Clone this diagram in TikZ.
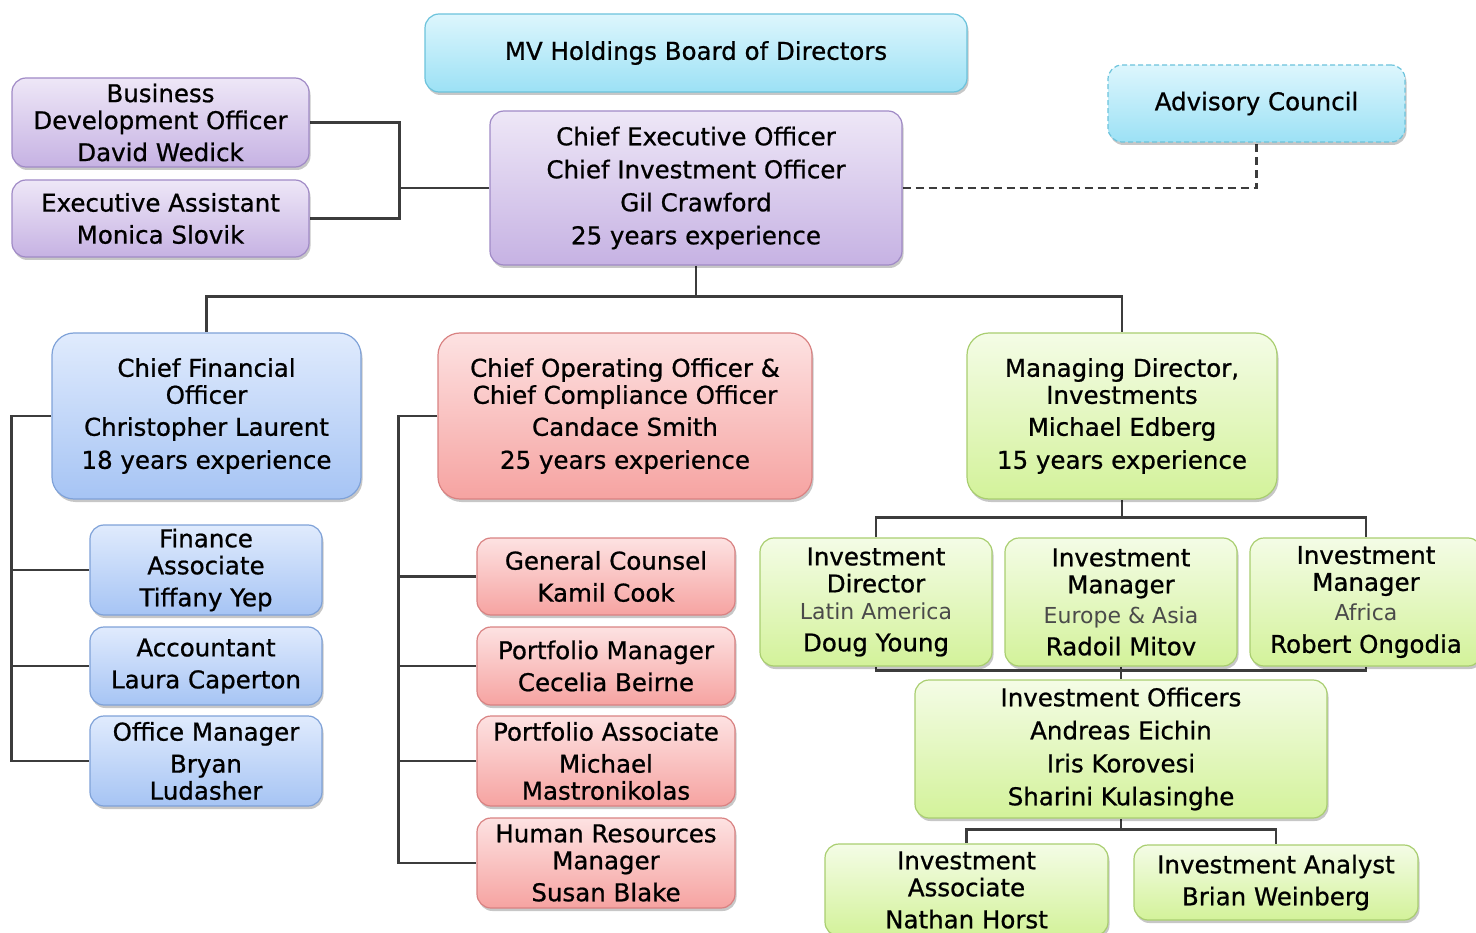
\documentclass[tikz,border=0pt]{standalone}
\usepackage{fontspec}
\setmainfont{DejaVu Sans}[FakeBold=0.8]
\usetikzlibrary{shadows}

\definecolor{purpletop}{HTML}{EEE7F7}
\definecolor{purplebot}{HTML}{C6B2E3}
\definecolor{purpleline}{HTML}{A08AC6}
\definecolor{cyantop}{HTML}{DDF6FD}
\definecolor{cyanbot}{HTML}{9CE1F5}
\definecolor{cyanline}{HTML}{6CC3DC}
\definecolor{bluetop}{HTML}{E0EBFD}
\definecolor{bluebot}{HTML}{A6C4F4}
\definecolor{blueline}{HTML}{7FA2D8}
\definecolor{redtop}{HTML}{FDE2E2}
\definecolor{redbot}{HTML}{F6A3A1}
\definecolor{redline}{HTML}{D98282}
\definecolor{greentop}{HTML}{F4FCE6}
\definecolor{greenbot}{HTML}{D3F29A}
\definecolor{greenline}{HTML}{A9CE70}
\definecolor{linkgray}{HTML}{3C3C3C}
\definecolor{regiongray}{HTML}{4A4A4A}

\newfontfamily\regionfont{DejaVu Sans}
\newcommand\regiontext[1]{{\regionfont\fontsize{22}{26}\selectfont\color{regiongray}#1}}

\pgfdeclarelayer{background}
\pgfsetlayers{background,main}

\tikzset{
  box/.style={rounded corners=14pt, line width=1.2pt, align=center, inner sep=0pt,
    text=black, font=\fontsize{24.5}{27}\selectfont,
    drop shadow={shadow xshift=1.5pt, shadow yshift=-3pt, opacity=0.22, fill=black}},
  purplebox/.style={box, draw=purpleline, top color=purpletop, bottom color=purplebot},
  cyanbox/.style={box, draw=cyanline, top color=cyantop, bottom color=cyanbot},
  bluebox/.style={box, draw=blueline, top color=bluetop, bottom color=bluebot},
  redbox/.style={box, draw=redline, top color=redtop, bottom color=redbot},
  greenbox/.style={box, draw=greenline, top color=greentop, bottom color=greenbot},
  link/.style={draw=linkgray, line width=2.5pt},
}

\begin{document}
\begin{tikzpicture}[x=1pt, y=-1pt]
\useasboundingbox (0,0) rectangle (1476,933);

% top row
\node[cyanbox, minimum width=542, minimum height=78] (board) at (696,53) {MV Holdings Board of Directors};
\node[cyanbox, dashed, dash pattern=on 5pt off 3pt, minimum width=297, minimum height=77] (adv) at (1256.5,103.5) {Advisory Council};
\node[purplebox, minimum width=297, minimum height=89] (bdo) at (160.5,122.5) {Business\\Development Officer\\[5pt]David Wedick};
\node[purplebox, minimum width=297, minimum height=77] (ea) at (160.5,218.5) {Executive Assistant\\[5pt]Monica Slovik};
\node[purplebox, minimum width=412, minimum height=154] (ceo) at (696,188) {Chief Executive Officer\\[6pt]Chief Investment Officer\\[6pt]Gil Crawford\\[6pt]25 years experience};

% second row
\node[bluebox, rounded corners=22pt, minimum width=309, minimum height=166] (cfo) at (206.5,416) {Chief Financial\\Officer\\[5pt]Christopher Laurent\\[6pt]18 years experience};
\node[redbox, rounded corners=22pt, minimum width=374, minimum height=166] (coo) at (625,416) {Chief Operating Officer \&\\Chief Compliance Officer\\[5pt]Candace Smith\\[6pt]25 years experience};
\node[greenbox, rounded corners=22pt, minimum width=310, minimum height=166] (md) at (1122,416) {Managing Director,\\Investments\\[5pt]Michael Edberg\\[6pt]15 years experience};

% finance staff
\node[bluebox, minimum width=232, minimum height=90] (fa) at (206,570) {Finance\\Associate\\[5pt]Tiffany Yep};
\node[bluebox, minimum width=232, minimum height=78] (acc) at (206,666) {Accountant\\[5pt]Laura Caperton};
\node[bluebox, minimum width=232, minimum height=90] (om) at (206,761) {Office Manager\\[5pt]Bryan\\Ludasher};

% operations staff
\node[redbox, minimum width=258, minimum height=77] (gc) at (606,576.5) {General Counsel\\[5pt]Kamil Cook};
\node[redbox, minimum width=258, minimum height=78] (pm) at (606,666) {Portfolio Manager\\[5pt]Cecelia Beirne};
\node[redbox, minimum width=258, minimum height=90] (pa) at (606,761) {Portfolio Associate\\[5pt]Michael\\Mastronikolas};
\node[redbox, minimum width=258, minimum height=90] (hr) at (606,863) {Human Resources\\Manager\\[5pt]Susan Blake};

% investment team
\node[greenbox, minimum width=232, minimum height=128] (idir) at (876,602) {Investment\\Director\\\regiontext{Latin America}\\[5pt]Doug Young};
\node[greenbox, minimum width=232, minimum height=128] (imea) at (1121,602) {Investment\\Manager\\[3pt]\regiontext{Europe \& Asia}\\[5pt]Radoil Mitov};
\node[greenbox, minimum width=232, minimum height=128] (imaf) at (1366,602) {Investment\\Manager\\[3pt]\regiontext{Africa}\\[5pt]Robert Ongodia};
\node[greenbox, minimum width=412, minimum height=138] (io) at (1121,749) {Investment Officers\\[6pt]Andreas Eichin\\[6pt]Iris Korovesi\\[6pt]Sharini Kulasinghe};
\node[greenbox, minimum width=283, minimum height=92] (ia) at (966.5,890) {Investment\\Associate\\[5pt]Nathan Horst};
\node[greenbox, minimum width=284, minimum height=75] (ian) at (1276,882.5) {Investment Analyst\\[5pt]Brian Weinberg};

\begin{pgfonlayer}{background}
\draw[link] (bdo.east) -- ++(90,0) |- (ea.east);
\draw[link] (ceo.west) -- ++(-91,0);
\draw[link, dash pattern=on 8pt off 5pt] (ceo.east) -| (adv.south);
\draw[link] (ceo.south) -- ++(0,32);
\draw[link] (cfo.north) -- ++(0,-36) -| (md.north);
\draw[link] (cfo.west) -- ++(-40,0) |- (om.west);
\draw[link] (fa.west) -- ++(-78,0);
\draw[link] (acc.west) -- ++(-78,0);
\draw[link] (coo.west) -- ++(-39,0) |- (hr.west);
\draw[link] (gc.west) -- ++(-78,0);
\draw[link] (pm.west) -- ++(-78,0);
\draw[link] (pa.west) -- ++(-78,0);
\draw[link] (md.south) -- ++(0,19);
\draw[link] (idir.north) -- ++(0,-20) -| (imaf.north);
\draw[link] (idir.south) -- ++(0,4) -| (imaf.south);
\draw[link] (imea.south) -- (io.north);
\draw[link] (io.south) -- ++(0,12);
\draw[link] (ia.north) -- ++(0,-14) -| (ian.north);
\end{pgfonlayer}
\end{tikzpicture}
\end{document}
